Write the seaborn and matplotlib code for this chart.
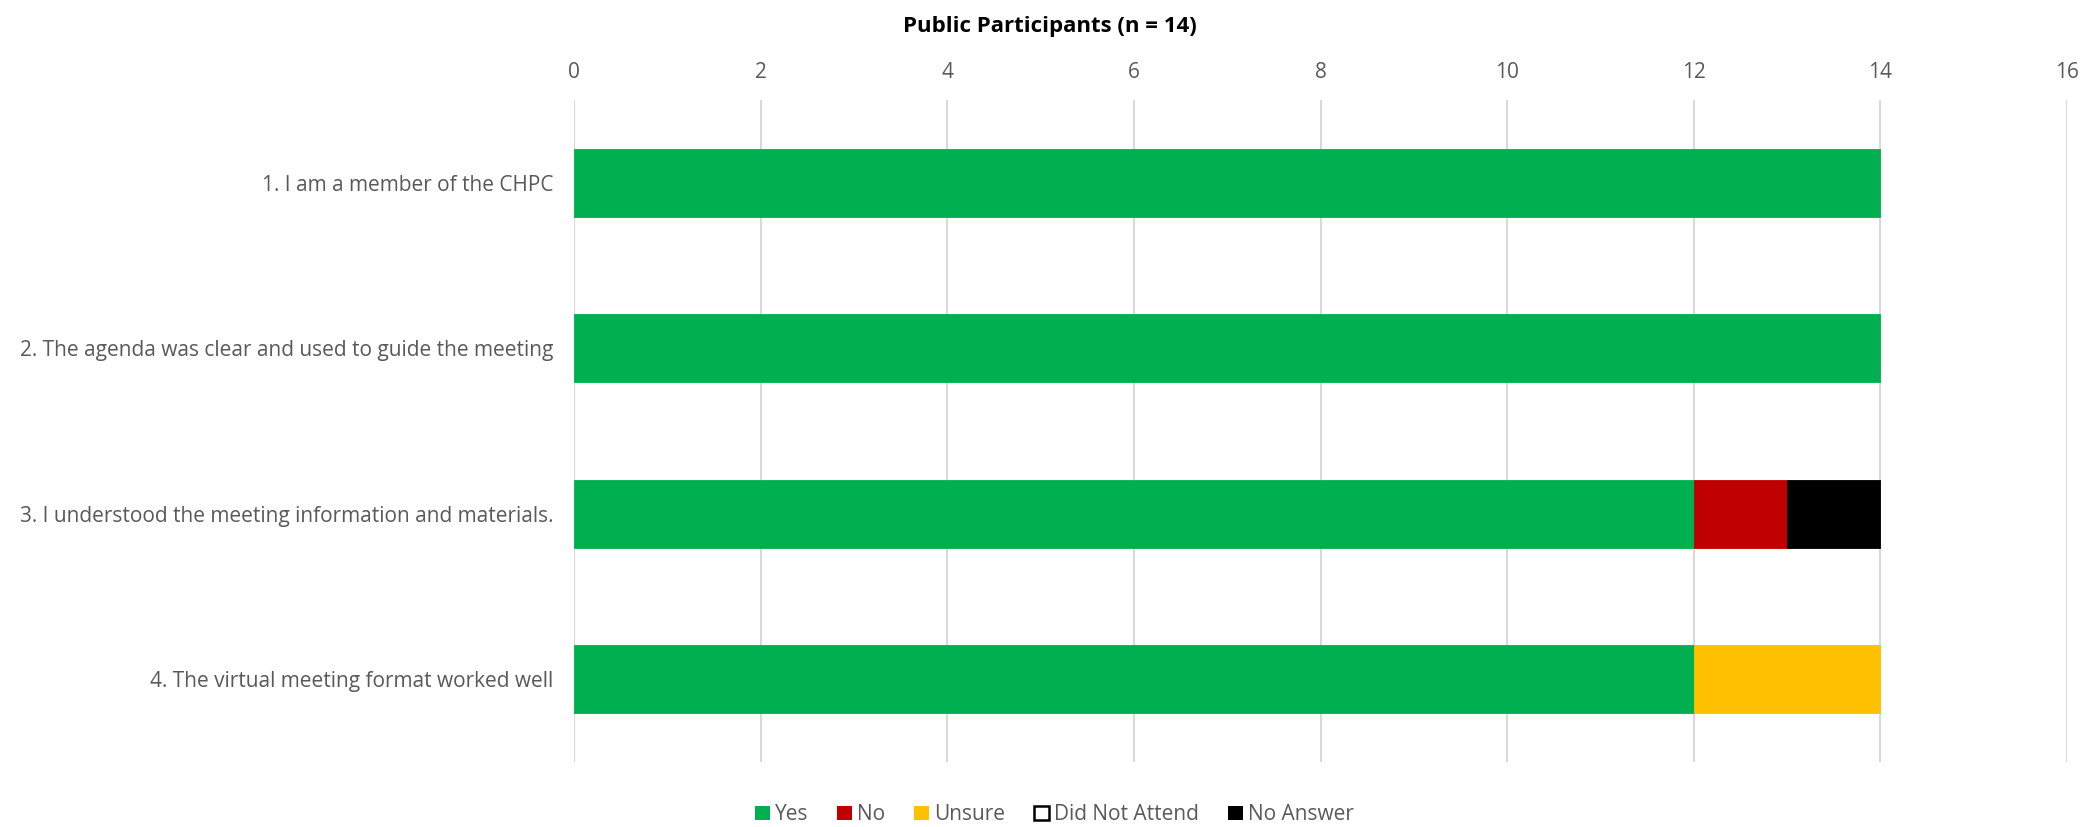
import pandas as pd
import numpy as np
from matplotlib import pyplot as plt
from matplotlib.patches import Patch
import seaborn as sns

questions = [
    "1. I am a member of the CHPC",
    "2. The agenda was clear and used to guide the meeting",
    "3. I understood the meeting information and materials.",
    "4. The virtual meeting format worked well",
]
answers = ["Yes", "No", "Unsure", "Did Not Attend", "No Answer"]
yes = [14, 14, 12, 12]
no = [0, 0, 1, 0]
unsure = [0, 0, 0, 2]
did_not_attend = [0, 0, 0, 0]
no_answer = [0, 0, 1, 0]

colors = {"Yes": "#00B050", "No": "#C00000", "Unsure": "#FFC000",
          "Did Not Attend": "#FFFFFF", "No Answer": "#000000"}
edges = {"Did Not Attend": "#000000"}

sns.set_theme(style="white")
plt.rcParams['font.family'] = ['Open Sans', 'DejaVu Sans']
text_col = "#595959"
fs = 15

fig = plt.figure(figsize=(20.88, 8.27), dpi=100)
ax = fig.add_axes([0.2749, 0.0786, 0.7151, 0.8005])

df = pd.DataFrame({"question": questions, "Yes": yes, "No": no, "Unsure": unsure,
                   "Did Not Attend": did_not_attend, "No Answer": no_answer})

# stack the segments left to right, skipping empty ones
left = np.zeros(len(questions))
for a in answers:
    vals = df[a].to_numpy()
    mask = vals > 0
    if mask.any():
        sub = df[mask]
        sns.barplot(data=sub, x=a, y="question", order=questions, orient="h",
                    color=colors[a], saturation=1, width=0.41, ax=ax,
                    left=left[mask], edgecolor=edges.get(a, colors[a]), linewidth=0.6,
                    zorder=3, errorbar=None)
    left += vals

ax.set_xlim(0, 16)
ax.set_xticks(range(0, 17, 2))
ax.set_ylim(3.5, -0.5)
ax.xaxis.tick_top()
ax.grid(axis="x", color="#D9D9D9", linewidth=1.5, zorder=0)
ax.grid(axis="y", visible=False)
for s in ax.spines.values():
    s.set_visible(False)
ax.set_xlabel("")
ax.set_ylabel("")
ax.tick_params(axis="x", length=0, pad=12.5, labelsize=fs, labelcolor=text_col)
ax.tick_params(axis="y", length=0, pad=15, labelsize=fs, labelcolor=text_col)

fig.text(0.503, 0.968, "Public Participants (n = 14)", ha="center", va="center",
         fontsize=16, fontweight="bold", color="#000000")

handles = [Patch(facecolor=colors[a], edgecolor=edges.get(a, colors[a]),
                 linewidth=1.8 if a in edges else 0) for a in answers]
leg = fig.legend(handles, answers, loc="center", bbox_to_anchor=(0.505, 0.015), ncol=5,
                 frameon=False, fontsize=fs, handlelength=0.7, handleheight=0.7,
                 handletextpad=0.25, columnspacing=1.4, borderpad=0)
for t in leg.get_texts():
    t.set_color(text_col)

fig.savefig("out.png", dpi=100)
